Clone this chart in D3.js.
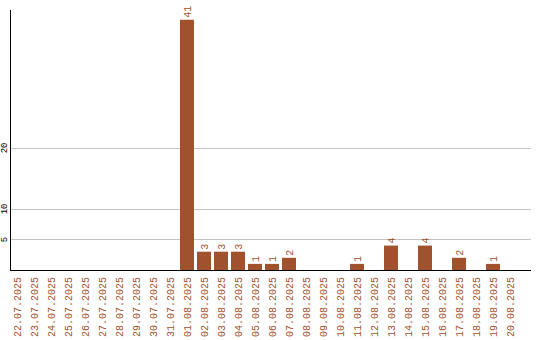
<!DOCTYPE html>
<html>
<head>
<meta charset="utf-8">
<script src="https://cdn.jsdelivr.net/npm/d3@7"></script>
<style>
  body { margin: 0; background: #fff; }
  text { font-family: "Liberation Mono", "DejaVu Sans Mono", monospace; }
</style>
</head>
<body>
<svg id="chart" width="540" height="340"></svg>
<script>
var dates = ["22.07.2025","23.07.2025","24.07.2025","25.07.2025","26.07.2025","27.07.2025",
  "28.07.2025","29.07.2025","30.07.2025","31.07.2025","01.08.2025","02.08.2025","03.08.2025",
  "04.08.2025","05.08.2025","06.08.2025","07.08.2025","08.08.2025","09.08.2025","10.08.2025",
  "11.08.2025","12.08.2025","13.08.2025","14.08.2025","15.08.2025","16.08.2025","17.08.2025",
  "18.08.2025","19.08.2025","20.08.2025"];
var counts = [0,0,0,0,0,0,0,0,0,0,41,3,3,3,1,1,2,0,0,0,1,0,4,0,4,0,2,0,1,0];
var yTicks = [5, 10, 20];

var svg = d3.select("#chart"),
    pLeft = 10, pRight = 531, pTop = 10, pBottom = 270,
    barColor = "#a0522d";

var x = d3.scaleBand().domain(dates).range([pLeft, pLeft + 17 * dates.length]).padding(0);
var y = d3.scaleLinear().domain([0, 42.6]).range([pBottom, pTop]);
var barW = 14;

var rows = dates.map(function(d, i) { return {date: d, v: counts[i]}; })
  .filter(function(d) { return d.v > 0; });

// grid lines
svg.append("g")
  .selectAll("line")
  .data(yTicks)
  .enter().append("line")
    .attr("x1", pLeft).attr("x2", pRight)
    .attr("y1", function(d) { return Math.round(y(d)) + 0.5; })
    .attr("y2", function(d) { return Math.round(y(d)) + 0.5; })
    .attr("stroke", "#c4c4c4");

// y tick labels, rotated
svg.append("g")
  .selectAll("text")
  .data(yTicks)
  .enter().append("text")
    .attr("transform", function(d) { return "translate(7," + y(d) + ") rotate(-90)"; })
    .attr("text-anchor", "middle")
    .attr("font-size", "9px")
    .attr("fill", "#000")
    .text(function(d) { return d; });

// bars
svg.append("g")
  .selectAll("rect")
  .data(rows)
  .enter().append("rect")
    .attr("x", function(d) { return x(d.date); })
    .attr("y", function(d) { return y(d.v); })
    .attr("width", barW)
    .attr("height", function(d) { return pBottom - y(d.v); })
    .attr("fill", barColor);

// value labels
svg.append("g")
  .selectAll("text")
  .data(rows)
  .enter().append("text")
    .attr("transform", function(d) {
      return "translate(" + (x(d.date) + barW / 2 + 3.5) + "," + (y(d.v) - 2) + ") rotate(-90)";
    })
    .attr("font-size", "10px")
    .attr("fill", barColor)
    .text(function(d) { return d.v; });

// x labels
svg.append("g")
  .selectAll("text")
  .data(dates)
  .enter().append("text")
    .attr("transform", function(d) {
      return "translate(" + (x(d) + barW / 2 + 3.5) + ",277) rotate(-90)";
    })
    .attr("text-anchor", "end")
    .attr("font-size", "10px")
    .attr("fill", barColor)
    .text(function(d) { return d; });

// axis lines
svg.append("line")
  .attr("x1", pLeft + 0.5).attr("x2", pLeft + 0.5)
  .attr("y1", pTop).attr("y2", pBottom + 1)
  .attr("stroke", "#000");
svg.append("line")
  .attr("x1", pLeft).attr("x2", pRight)
  .attr("y1", pBottom + 0.5).attr("y2", pBottom + 0.5)
  .attr("stroke", "#000");
</script>
</body>
</html>
